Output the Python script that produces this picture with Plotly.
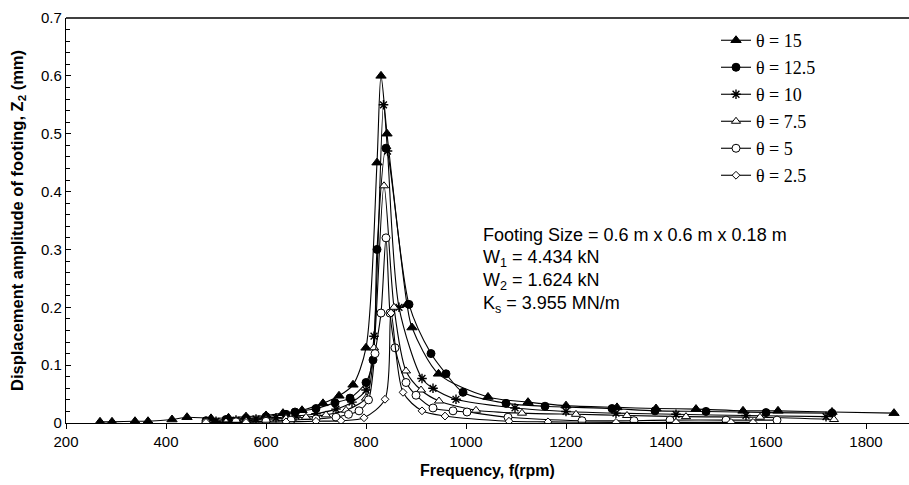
import plotly.graph_objects as go

# ---- data ----
f15 = [268, 292, 338, 364, 412, 442, 490, 525, 560, 600, 634, 672, 714, 746, 774, 800, 822, 830, 842, 882, 892, 945, 1044, 1124, 1200, 1302, 1380, 1460, 1554, 1624, 1732, 1856]
z15 = [0.002, 0.002, 0.003, 0.003, 0.006, 0.010, 0.008, 0.009, 0.011, 0.013, 0.017, 0.022, 0.034, 0.047, 0.066, 0.13, 0.45, 0.60, 0.50, 0.205, 0.165, 0.085, 0.045, 0.036, 0.030, 0.027, 0.025, 0.024, 0.021, 0.021, 0.019, 0.017]

f125 = [480, 520, 560, 600, 640, 658, 700, 738, 768, 800, 814, 822, 840, 886, 930, 960, 994, 1080, 1158, 1292, 1378, 1480, 1600, 1732]
z125 = [0.004, 0.006, 0.008, 0.011, 0.015, 0.019, 0.025, 0.035, 0.043, 0.07, 0.109, 0.30, 0.475, 0.205, 0.12, 0.085, 0.053, 0.034, 0.029, 0.025, 0.021, 0.020, 0.018, 0.017]

f10 = [500, 540, 580, 620, 660, 700, 740, 772, 800, 816, 835, 843, 866, 912, 934, 980, 1098, 1200, 1300, 1420, 1560, 1720]
z10 = [0.003, 0.005, 0.007, 0.009, 0.012, 0.016, 0.024, 0.036, 0.057, 0.15, 0.55, 0.47, 0.20, 0.077, 0.060, 0.041, 0.026, 0.020, 0.017, 0.015, 0.013, 0.011]

f75 = [520, 560, 600, 640, 680, 720, 760, 800, 816, 836, 856, 880, 910, 946, 1020, 1112, 1220, 1322, 1440, 1588, 1736]
z75 = [0.002, 0.004, 0.006, 0.008, 0.010, 0.014, 0.022, 0.043, 0.13, 0.41, 0.20, 0.09, 0.057, 0.038, 0.022, 0.017, 0.015, 0.013, 0.011, 0.010, 0.006]

f5 = [480, 540, 600, 650, 700, 740, 765, 786, 805, 818, 830, 840, 848, 858, 880, 900, 934, 974, 1002, 1084, 1232, 1336, 1408, 1520, 1622]
z5 = [0.001, 0.002, 0.003, 0.005, 0.007, 0.010, 0.015, 0.021, 0.040, 0.12, 0.19, 0.32, 0.19, 0.13, 0.07, 0.048, 0.026, 0.021, 0.019, 0.010, 0.004, 0.004, 0.005, 0.005, 0.005]

f25 = [480, 560, 640, 700, 750, 796, 838, 850, 874, 912, 958, 1086, 1164, 1300, 1420, 1530, 1574]
z25 = [0.001, 0.001, 0.002, 0.003, 0.004, 0.009, 0.041, 0.19, 0.053, 0.021, 0.012, 0.003, 0.002, 0.001, 0.001, 0.001, 0.001]

series = [
    ("θ = 15", f15, z15),
    ("θ = 12.5", f125, z125),
    ("θ = 10", f10, z10),
    ("θ = 7.5", f75, z75),
    ("θ = 5", f5, z5),
    ("θ = 2.5", f25, z25),
]

x_ticks = [200, 400, 600, 800, 1000, 1200, 1400, 1600, 1800]
y_ticks = [0, 0.1, 0.2, 0.3, 0.4, 0.5, 0.6, 0.7]
y_tick_text = ["0", "0.1", "0.2", "0.3", "0.4", "0.5", "0.6", "0.7"]

styles = [
    dict(symbol="triangle-up", size=9, color="black", line=dict(color="black", width=1)),
    dict(symbol="circle", size=8, color="black", line=dict(color="black", width=1)),
    dict(symbol="asterisk-open", size=8, color="black", line=dict(color="black", width=1.4)),
    dict(symbol="triangle-up", size=8, color="white", line=dict(color="black", width=1)),
    dict(symbol="circle", size=8, color="white", line=dict(color="black", width=1)),
    dict(symbol="diamond", size=6, color="white", line=dict(color="black", width=1)),
]

fig = go.Figure()
for i, ((name, fx, zy), st) in enumerate(zip(series, styles)):
    fig.add_trace(go.Scatter(
        x=fx, y=zy, name=name, mode="lines+markers",
        line=dict(color="black", width=1.1, shape="spline", smoothing=0.8),
        marker=st, legendgroup=f"g{i}",
    ))

fig.update_layout(
    width=909, height=485,
    margin=dict(l=66, r=0, t=18, b=62),
    paper_bgcolor="white", plot_bgcolor="white",
    showlegend=True,
    legend=dict(
        x=(716 - 66) / 843, y=0.99, xanchor="left", yanchor="top",
        font=dict(family="Liberation Serif", size=18, color="black"),
        bgcolor="rgba(0,0,0,0)", tracegroupgap=0.6, itemwidth=30,
    ),
    xaxis=dict(
        range=[200, 1886], tickvals=x_ticks, ticks="outside", ticklen=5,
        tickcolor="black", showline=True, linecolor="black", linewidth=1.3,
        showgrid=False, zeroline=False, automargin=False,
        tickfont=dict(family="Liberation Sans", size=15, color="black"),
        title=dict(text="<b>Frequency, f(rpm)</b>", standoff=15,
                   font=dict(family="Liberation Sans", size=16, color="black")),
    ),
    yaxis=dict(
        range=[0, 0.7], tickvals=y_ticks, ticktext=y_tick_text,
        ticks="inside", ticklen=5, tickcolor="black",
        minor=dict(dtick=0.02, ticks="inside", ticklen=4, tickcolor="black"),
        showline=True, linecolor="black", linewidth=1.3,
        showgrid=False, zeroline=False, automargin=False,
        tickfont=dict(family="Liberation Sans", size=15, color="black"),
        title=dict(text="<b>Displacement amplitude of footing, Z<sub>2</sub> (mm)</b>", standoff=13,
                   font=dict(family="Liberation Sans", size=16.5, color="black")),
    ),
)

# top frame line
fig.add_shape(type="line", xref="paper", yref="paper", x0=0, x1=1, y0=1, y1=1,
              line=dict(color="black", width=1.3))

info = ["Footing Size = 0.6 m x 0.6 m x 0.18 m",
        "W<sub>1</sub> = 4.434 kN",
        "W<sub>2</sub> = 1.624 kN",
        "K<sub>s</sub> = 3.955 MN/m"]
for k, t in enumerate(info):
    fig.add_annotation(xref="paper", yref="paper", x=(481 - 66) / 843, y=(423 - 235 - 23 * k) / 405,
                       text=t, showarrow=False, xanchor="left", yanchor="middle",
                       font=dict(family="Liberation Sans", size=18, color="black"))

fig.write_html("out.html", config={"displayModeBar": False},
               post_script="document.body.style.margin='0';")
